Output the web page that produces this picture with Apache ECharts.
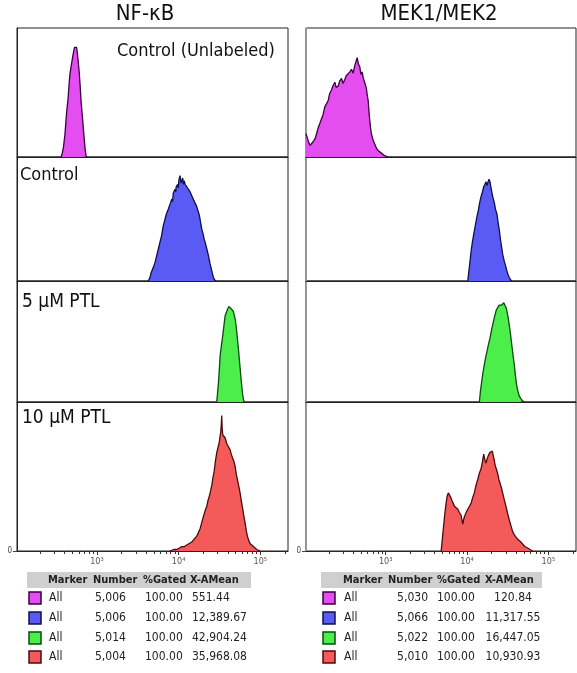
<!DOCTYPE html>
<html>
<head>
<meta charset="utf-8">
<script src="https://cdn.jsdelivr.net/npm/echarts@6/dist/echarts.min.js"></script>
<style>
  html, body { margin: 0; padding: 0; background: #fff; }
  #chart { width: 577px; height: 673px; }
</style>
</head>
<body>
<div id="chart"></div>
<script>
// histogram data: [log10 intensity, relative count (% of panel height)]
var nfkbUnlabeled = [[2.56,0],[2.575,3],[2.59,8],[2.608,18],[2.62,28],[2.63,36],[2.645,45],[2.66,58],[2.67,65],[2.685,71],[2.703,78],[2.715,82],[2.725,85],[2.731,86],[2.74,84],[2.75,85],[2.759,81],[2.77,74],[2.783,65],[2.795,54],[2.804,44],[2.815,36],[2.825,28],[2.833,22],[2.845,13],[2.855,6],[2.866,1],[2.875,0]];
var nfkbControl = [[3.629,0],[3.65,3],[3.66,6],[3.671,5],[3.69,11],[3.7,10],[3.711,15],[3.73,20],[3.74,19],[3.752,26],[3.77,31],[3.78,30],[3.793,37],[3.81,44],[3.82,43],[3.834,50],[3.85,54],[3.874,58],[3.885,57],[3.895,62],[3.916,66],[3.925,64],[3.935,71],[3.956,74],[3.965,72],[3.97,76],[3.989,78],[3.995,75],[4.005,82],[4.018,85],[4.028,79],[4.038,80],[4.05,83],[4.058,78],[4.067,81],[4.08,78],[4.10,77],[4.11,75],[4.12,74],[4.14,72],[4.15,73],[4.16,69],[4.18,66],[4.19,67],[4.2,63],[4.222,60],[4.24,56],[4.254,53],[4.27,47],[4.283,42],[4.3,38],[4.312,34],[4.33,30],[4.345,26],[4.36,22],[4.373,18],[4.385,14],[4.397,11],[4.41,7],[4.426,3],[4.44,1],[4.459,0]];
var nfkb5uM = [[4.467,0],[4.487,15],[4.5,28],[4.508,38],[4.525,47],[4.541,55],[4.555,63],[4.569,71],[4.585,74],[4.602,77],[4.615,79],[4.63,80],[4.645,77],[4.658,78],[4.67,75],[4.683,74],[4.694,68],[4.704,63],[4.715,56],[4.725,49],[4.735,42],[4.744,35],[4.755,27],[4.765,19],[4.775,12],[4.786,5],[4.795,2],[4.802,0]];
var nfkb10uM = [[3.895,0],[3.94,1],[3.977,1],[4.01,2],[4.038,3],[4.07,3],[4.10,4],[4.13,5],[4.161,6],[4.19,8],[4.222,10],[4.24,12],[4.263,15],[4.283,19],[4.303,23],[4.325,27],[4.345,30],[4.36,34],[4.377,37],[4.39,40],[4.406,44],[4.42,49],[4.434,53],[4.45,60],[4.467,66],[4.48,69],[4.495,72],[4.505,76],[4.516,80],[4.522,84],[4.528,91],[4.534,82],[4.541,78],[4.555,79],[4.569,76],[4.58,74],[4.59,72],[4.61,70],[4.63,68],[4.645,65],[4.663,62],[4.678,60],[4.692,57],[4.705,52],[4.72,48],[4.735,44],[4.753,39],[4.77,33],[4.786,28],[4.8,23],[4.814,19],[4.828,14],[4.842,10],[4.86,7],[4.875,5],[4.895,4],[4.916,3],[4.935,2],[4.957,1],[4.998,0]];

var mekUnlabeled = [[2.02,18],[2.035,15],[2.05,12],[2.07,9],[2.089,9],[2.11,12],[2.13,14],[2.15,18],[2.171,23],[2.19,26],[2.212,27],[2.23,33],[2.252,39],[2.27,41],[2.294,44],[2.31,49],[2.334,52],[2.35,55],[2.375,58],[2.39,54],[2.416,55],[2.435,59],[2.457,61],[2.475,57],[2.497,60],[2.515,63],[2.539,62],[2.56,66],[2.579,68],[2.6,65],[2.62,71],[2.635,74],[2.649,77],[2.665,72],[2.681,70],[2.695,64],[2.71,66],[2.725,61],[2.742,60],[2.755,55],[2.763,53],[2.775,47],[2.784,44],[2.795,35],[2.803,29],[2.815,22],[2.824,18],[2.845,13],[2.865,10],[2.885,7],[2.906,5],[2.925,4],[2.947,3],[2.965,2],[2.987,1],[3.03,0]];
var mekControl = [[4.009,0],[4.03,12],[4.05,24],[4.065,31],[4.083,38],[4.1,44],[4.111,48],[4.125,53],[4.139,57],[4.155,63],[4.172,68],[4.19,72],[4.205,76],[4.22,78],[4.233,80],[4.245,77],[4.254,79],[4.27,82],[4.283,80],[4.295,75],[4.307,71],[4.32,67],[4.336,63],[4.35,58],[4.368,54],[4.382,47],[4.397,41],[4.41,34],[4.426,27],[4.44,21],[4.458,16],[4.475,12],[4.491,8],[4.505,5],[4.519,3],[4.535,1],[4.549,0]];
var mek5uM = [[4.152,0],[4.165,9],[4.181,17],[4.195,24],[4.213,31],[4.23,37],[4.246,42],[4.265,48],[4.283,53],[4.3,59],[4.316,64],[4.33,68],[4.344,72],[4.36,76],[4.377,78],[4.395,80],[4.409,81],[4.425,80],[4.438,79],[4.452,82],[4.466,82],[4.48,78],[4.491,75],[4.505,70],[4.519,64],[4.535,56],[4.549,48],[4.565,39],[4.581,31],[4.595,22],[4.61,14],[4.625,9],[4.642,5],[4.66,3],[4.683,1],[4.703,0]];
var mek10uM = [[3.682,0],[3.7,10],[3.723,23],[3.74,31],[3.756,37],[3.77,39],[3.784,39],[3.8,36],[3.813,34],[3.83,32],[3.845,30],[3.865,29],[3.887,28],[3.905,26],[3.927,24],[3.94,20],[3.948,18],[3.958,21],[3.968,23],[3.99,26],[4.009,28],[4.03,30],[4.05,32],[4.07,36],[4.09,39],[4.11,44],[4.132,48],[4.15,52],[4.172,55],[4.19,60],[4.205,65],[4.22,61],[4.233,59],[4.248,62],[4.262,64],[4.28,66],[4.295,67],[4.31,67],[4.323,66],[4.335,61],[4.344,58],[4.36,55],[4.377,52],[4.392,48],[4.409,45],[4.425,42],[4.438,39],[4.46,34],[4.479,30],[4.5,25],[4.519,21],[4.54,17],[4.561,13],[4.58,11],[4.601,10],[4.62,8],[4.642,7],[4.663,6],[4.683,5],[4.71,3],[4.745,2],[4.775,1],[4.806,0]];

var columnTitles = ['NF-\u03baB', 'MEK1/MEK2'];
var rowLabels = ['Control (Unlabeled)', 'Control', '5 \u00b5M PTL', '10 \u00b5M PTL'];

// x axis ticks (intensity)
var majorTickValues = [1e3, 1e4, 1e5];
var majorTickLabels = ['10\u00b3', '10\u2074', '10\u2075'];
var minorTickValues = [200, 300, 400, 500, 600, 700, 800, 900,
                       2000, 3000, 4000, 5000, 6000, 7000, 8000, 9000,
                       20000, 30000, 40000, 50000, 60000, 70000, 80000, 90000, 200000];

// stats tables
var tableHeader = ['Marker', 'Number', '%Gated', 'X-AMean'];
var tableMarkers = ['All', 'All', 'All', 'All'];
var nfkbNumber = ['5,006', '5,006', '5,014', '5,004'];
var nfkbGated = ['100.00', '100.00', '100.00', '100.00'];
var nfkbMean = ['551.44', '12,389.67', '42,904.24', '35,968.08'];
var mekNumber = ['5,030', '5,066', '5,022', '5,010'];
var mekGated = ['100.00', '100.00', '100.00', '100.00'];
var mekMean = ['120.84', '11,317.55', '16,447.05', '10,930.93'];

var fills = ['#e44ef0', '#5a5af5', '#4cee4c', '#f45a5a'];
var edges = ['#3a0040', '#10104a', '#0c4a10', '#4a0c0c'];

var FONT = "'DejaVu Sans Condensed', 'DejaVu Sans', sans-serif";
var X_MIN = 2.02, X_MAX = 5.34;

var cols = [
  { left: 17, width: 271, yLine: '#222', data: [nfkbUnlabeled, nfkbControl, nfkb5uM, nfkb10uM] },
  { left: 306, width: 270, yLine: '#999', data: [mekUnlabeled, mekControl, mek5uM, mek10uM] }
];
var rows = [
  { top: 28, height: 129 },
  { top: 157, height: 124 },
  { top: 281, height: 121 },
  { top: 402, height: 149 }
];

var grids = [], xAxes = [], yAxes = [], series = [];

cols.forEach(function (col, c) {
  rows.forEach(function (row, r) {
    var bottom = (r === rows.length - 1);
    var gi = grids.length;
    grids.push({
      left: col.left, top: row.top, width: col.width, height: row.height,
      show: true, borderColor: '#222', borderWidth: 1, backgroundColor: '#fff'
    });
    var xi = xAxes.length;
    xAxes.push({
      type: 'value', gridIndex: gi, min: X_MIN, max: X_MAX, position: 'bottom',
      splitLine: { show: false },
      axisLine: { show: true, lineStyle: { color: bottom ? '#5a1010' : '#222', width: 1 } },
      axisTick: { show: bottom, length: 4, lineStyle: { color: '#333' },
                  customValues: majorTickValues.map(Math.log10) },
      axisLabel: {
        show: bottom, margin: 6, fontSize: 9, color: '#555', fontFamily: FONT,
        customValues: majorTickValues.map(Math.log10),
        formatter: function (v) {
          var k = majorTickValues.findIndex(function (t) { return Math.abs(Math.log10(t) - v) < 1e-6; });
          return k >= 0 ? majorTickLabels[k] : '';
        }
      }
    });
    if (bottom) {
      // minor log ticks
      xAxes.push({
        type: 'value', gridIndex: gi, min: X_MIN, max: X_MAX, position: 'bottom',
        splitLine: { show: false }, axisLine: { show: false }, axisLabel: { show: false },
        axisTick: { show: true, length: 3, lineStyle: { color: '#333' },
                    customValues: minorTickValues.map(Math.log10) }
      });
    }
    var yi = yAxes.length;
    yAxes.push({
      type: 'value', gridIndex: gi, min: 0, max: 100,
      splitLine: { show: false },
      axisLine: { show: true, lineStyle: { color: col.yLine, width: 1 } },
      axisTick: { show: bottom, length: 4, customValues: [0], lineStyle: { color: '#444' } },
      axisLabel: { show: bottom, customValues: [0], margin: 5, fontSize: 8, color: '#444', fontFamily: FONT }
    });
    series.push({
      type: 'line', xAxisIndex: xi, yAxisIndex: yi,
      data: col.data[r], symbol: 'none', silent: true,
      lineStyle: { color: edges[r], width: 1.3 },
      areaStyle: { color: fills[r], opacity: 1 }
    });
  });
});

var graphics = [];

function addText(x, y, text, opts) {
  graphics.push({
    type: 'text', x: x, y: y, silent: true,
    style: Object.assign({ text: text, fill: '#111', font: '12px ' + FONT,
                           textVerticalAlign: 'middle', textAlign: 'left' }, opts || {})
  });
}

// column titles
addText(145, 14, columnTitles[0], { font: '22px ' + FONT, textAlign: 'center' });
addText(439, 14, columnTitles[1], { font: '22px ' + FONT, textAlign: 'center' });

// row labels (left column)
var rowLabelPos = [[117, 51, 18], [20, 175, 18], [22, 302, 19], [22, 418, 19]];
rowLabels.forEach(function (t, i) {
  addText(rowLabelPos[i][0], rowLabelPos[i][1], t, { font: rowLabelPos[i][2] + 'px ' + FONT });
});

// stats tables
function addTable(cfg, numbers, gated, means) {
  graphics.push({
    type: 'rect', silent: true,
    shape: { x: cfg.bandX, y: 572, width: cfg.bandW, height: 16 },
    style: { fill: '#cfcfcf' }
  });
  tableHeader.forEach(function (h, i) {
    addText(cfg.head[i], 580, h, { font: 'bold 11px ' + FONT, fill: '#222' });
  });
  var rowY = [598, 618, 638, 657];
  rowY.forEach(function (y, i) {
    graphics.push({
      type: 'rect', silent: true,
      shape: { x: cfg.swatchX, y: y - 6, width: 12, height: 12 },
      style: { fill: fills[i], stroke: edges[i], lineWidth: 1.5 }
    });
    addText(cfg.allX, y, tableMarkers[i], { fill: '#222' });
    addText(cfg.numX, y, numbers[i], { fill: '#222', textAlign: cfg.numAlign });
    addText(cfg.gatedX, y, gated[i], { fill: '#222' });
    addText(cfg.meanX, y, means[i], { fill: '#222', textAlign: cfg.meanAlign });
  });
}

addTable({ bandX: 27, bandW: 224, head: [48, 93, 143, 190], swatchX: 29, allX: 49,
           numX: 95, numAlign: 'left', gatedX: 145, meanX: 192, meanAlign: 'left' },
         nfkbNumber, nfkbGated, nfkbMean);
addTable({ bandX: 321, bandW: 221, head: [343, 388, 437, 485], swatchX: 323, allX: 344,
           numX: 428, numAlign: 'right', gatedX: 437, meanX: 513, meanAlign: 'center' },
         mekNumber, mekGated, mekMean);

var chart = echarts.init(document.getElementById('chart'));
chart.setOption({
  animation: false,
  backgroundColor: '#fff',
  textStyle: { fontFamily: FONT },
  grid: grids,
  xAxis: xAxes,
  yAxis: yAxes,
  series: series,
  graphic: graphics
});
</script>
</body>
</html>
